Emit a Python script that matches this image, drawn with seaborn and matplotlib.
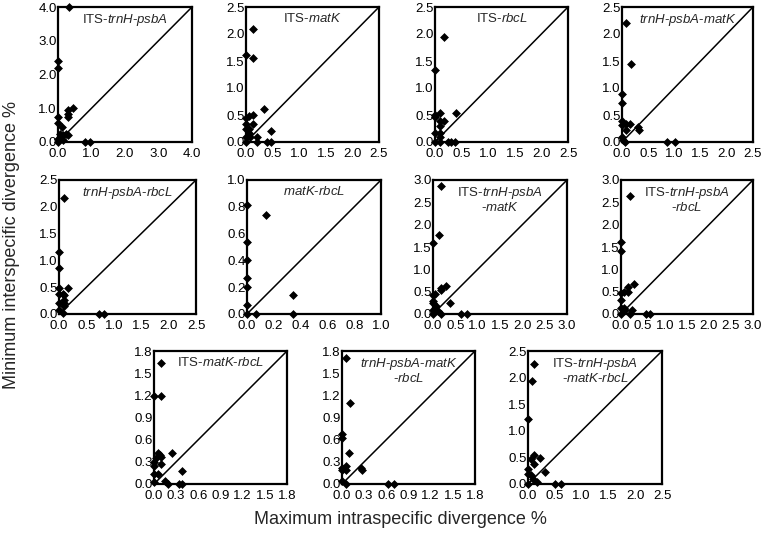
import numpy as np
import pandas as pd
import matplotlib
matplotlib.use("Agg")
import matplotlib.pyplot as plt
import seaborn as sns

sns.set_style("white")
plt.rcParams["font.family"] = ["Liberation Sans", "DejaVu Sans"]
plt.rcParams["mathtext.fontset"] = "custom"
plt.rcParams["mathtext.rm"] = "Liberation Sans"
plt.rcParams["mathtext.it"] = "Liberation Sans:italic"

# data: (max intraspecific, min interspecific) per marker combination
its_trnh_x = [0.33, 0.0, 0.0, 0.0, 0.0, 0.3, 0.3, 0.3, 0.45, 0.13, 0.07, 0.15, 0.25, 0.3, 0.0, 0.0, 0.8, 0.95, 0.15]
its_trnh_y = [4.0, 2.4, 2.18, 0.74, 0.56, 0.96, 0.84, 0.74, 1.02, 0.43, 0.25, 0.2, 0.25, 0.2, 0.1, 0.0, 0.0, 0.0, 0.05]

its_matk_x = [0.125, 0.0, 0.125, 0.34, 0.06, 0.14, 0.14, 0.0, 0.0, 0.0, 0.06, 0.06, 0.0, 0.08, 0.2, 0.47, 0.4, 0.47, 0.2, 0.0]
its_matk_y = [2.09, 1.62, 1.55, 0.62, 0.48, 0.5, 0.34, 0.44, 0.34, 0.25, 0.25, 0.16, 0.09, 0.09, 0.09, 0.2, 0.0, 0.0, 0.0, 0.0]

its_rbcl_x = [0.16, 0.0, 0.0, 0.0, 0.09, 0.09, 0.09, 0.17, 0.39, 0.0, 0.09, 0.09, 0.0, 0.09, 0.24, 0.31, 0.37]
its_rbcl_y = [1.94, 1.34, 0.5, 0.46, 0.53, 0.38, 0.29, 0.38, 0.53, 0.16, 0.16, 0.09, 0.0, 0.0, 0.0, 0.0, 0.0]

trnh_matk_x = [0.08, 0.18, 0.0, 0.0, 0.0, 0.0, 0.08, 0.16, 0.08, 0.31, 0.33, 0.0, 0.02, 0.05, 0.86, 1.02]
trnh_matk_y = [2.2, 1.44, 0.89, 0.73, 0.39, 0.31, 0.33, 0.33, 0.23, 0.27, 0.23, 0.09, 0.03, 0.0, 0.0, 0.0]

trnh_rbcl_x = [0.1, 0.0, 0.0, 0.0, 0.17, 0.0, 0.07, 0.1, 0.1, 0.1, 0.1, 0.0, 0.0, 0.07, 0.73, 0.82]
trnh_rbcl_y = [2.16, 1.16, 0.85, 0.48, 0.48, 0.37, 0.37, 0.35, 0.27, 0.2, 0.14, 0.2, 0.07, 0.01, 0.0, 0.0]

matk_rbcl_x = [0.14, 0.0, 0.0, 0.0, 0.0, 0.0, 0.0, 0.0, 0.07, 0.34, 0.34]
matk_rbcl_y = [0.74, 0.81, 0.54, 0.4, 0.27, 0.2, 0.07, 0.0, 0.0, 0.14, 0.0]

its_trnh_matk_x = [0.17, 0.13, 0.0, 0.28, 0.17, 0.17, 0.05, 0.0, 0.0, 0.0, 0.06, 0.0, 0.11, 0.38, 0.17, 0.62, 0.77, 0.0]
its_trnh_matk_y = [2.86, 1.77, 1.59, 0.62, 0.59, 0.53, 0.44, 0.42, 0.3, 0.25, 0.17, 0.1, 0.06, 0.25, 0.0, 0.0, 0.0, 0.0]

its_trnh_rbcl_x = [0.21, 0.0, 0.0, 0.0, 0.06, 0.17, 0.29, 0.17, 0.0, 0.0, 0.06, 0.1, 0.25, 0.0, 0.21, 0.57, 0.66]
its_trnh_rbcl_y = [2.65, 1.62, 1.41, 0.46, 0.49, 0.61, 0.68, 0.5, 0.32, 0.14, 0.14, 0.1, 0.1, 0.0, 0.0, 0.0, 0.0]

its_matk_rbcl_x = [0.1, 0.0, 0.1, 0.06, 0.08, 0.1, 0.03, 0.0, 0.0, 0.1, 0.24, 0.06, 0.0, 0.38, 0.15, 0.19, 0.34, 0.38, 0.0]
its_matk_rbcl_y = [1.64, 1.19, 1.19, 0.42, 0.39, 0.37, 0.35, 0.3, 0.25, 0.27, 0.42, 0.13, 0.13, 0.18, 0.04, 0.0, 0.0, 0.0, 0.03]

trnh_matk_rbcl_x = [0.06, 0.11, 0.0, 0.0, 0.1, 0.0, 0.0, 0.05, 0.05, 0.26, 0.27, 0.0, 0.05, 0.62, 0.71]
trnh_matk_rbcl_y = [1.7, 1.1, 0.68, 0.62, 0.42, 0.22, 0.19, 0.24, 0.19, 0.22, 0.19, 0.04, 0.0, 0.0, 0.0]

all_five_x = [0.12, 0.08, 0.0, 0.12, 0.06, 0.22, 0.12, 0.0, 0.0, 0.06, 0.09, 0.31, 0.16, 0.51, 0.61, 0.0]
all_five_y = [2.25, 1.93, 1.23, 0.55, 0.47, 0.48, 0.38, 0.28, 0.19, 0.16, 0.09, 0.22, 0.03, 0.0, 0.0, 0.0]

titles = [
    r"ITS-$\it{trnH}$-$\it{psbA}$",
    r"ITS-$\it{matK}$",
    r"ITS-$\it{rbcL}$",
    r"$\it{trnH}$-$\it{psbA}$-$\it{matK}$",
    r"$\it{trnH}$-$\it{psbA}$-$\it{rbcL}$",
    r"$\it{matK}$-$\it{rbcL}$",
    "ITS-$\\it{trnH}$-$\\it{psbA}$\n-$\\it{matK}$",
    "ITS-$\\it{trnH}$-$\\it{psbA}$\n-$\\it{rbcL}$",
    r"ITS-$\it{matK}$-$\it{rbcL}$",
    "$\\it{trnH}$-$\\it{psbA}$-$\\it{matK}$\n-$\\it{rbcL}$",
    "ITS-$\\it{trnH}$-$\\it{psbA}$\n-$\\it{matK}$-$\\it{rbcL}$",
]
axis_max = [4.0, 2.5, 2.5, 2.5, 2.5, 1.0, 3.0, 3.0, 1.8, 1.8, 2.5]
tick_step = [1.0, 0.5, 0.5, 0.5, 0.5, 0.2, 0.5, 0.5, 0.3, 0.3, 0.5]

series = [
    (its_trnh_x, its_trnh_y), (its_matk_x, its_matk_y), (its_rbcl_x, its_rbcl_y),
    (trnh_matk_x, trnh_matk_y), (trnh_rbcl_x, trnh_rbcl_y), (matk_rbcl_x, matk_rbcl_y),
    (its_trnh_matk_x, its_trnh_matk_y), (its_trnh_rbcl_x, its_trnh_rbcl_y),
    (its_matk_rbcl_x, its_matk_rbcl_y), (trnh_matk_rbcl_x, trnh_matk_rbcl_y),
    (all_five_x, all_five_y),
]

# panel boxes in pixels: left, right, top, bottom
W, H = 767, 536
boxes = [
    (58, 192, 7, 142), (246, 379, 7, 142), (435, 568, 7, 142), (622, 753, 7, 142),
    (59, 196, 180, 314), (247, 381, 180, 314), (433, 567, 180, 314), (621, 753, 180, 314),
    (154, 287, 351, 484), (342, 475, 351, 484), (528, 662, 351, 484),
]

fig = plt.figure(figsize=(W / 100, H / 100), dpi=100)

for i, (xs, ys) in enumerate(series):
    l, r, t, b = boxes[i]
    ax = fig.add_axes([l / W, 1 - b / H, (r - l) / W, (b - t) / H])
    m = axis_max[i]
    ax.plot([0, m], [0, m], color="black", lw=1.1, zorder=1)
    df = pd.DataFrame({"intra": xs, "inter": ys})
    sns.scatterplot(data=df, x="intra", y="inter", ax=ax, marker="D", s=16,
                    color="black", edgecolor="black", linewidth=0.5,
                    clip_on=False, zorder=3)
    ax.set_xlim(0, m)
    ax.set_ylim(0, m)
    ticks = np.arange(0, m + tick_step[i] / 2, tick_step[i])
    ax.set_xticks(ticks)
    ax.set_yticks(ticks)
    ax.set_xticklabels([f"{v:.1f}" for v in ticks])
    ax.set_yticklabels([f"{v:.1f}" for v in ticks])
    ax.tick_params(length=0, labelsize=9.5, colors="black")
    ax.tick_params(axis="x", pad=4)
    ax.tick_params(axis="y", pad=1)
    ax.set_xlabel("")
    ax.set_ylabel("")
    for s in ax.spines.values():
        s.set_color("black")
        s.set_linewidth(1.6)
    ax.text(0.5, 0.96, titles[i], transform=ax.transAxes, ha="center", va="top",
            multialignment="center", fontsize=9.5, linespacing=0.95)

fig.text(12 / W, 1 - 245 / H, "Minimum interspecific divergence %", rotation=90,
         ha="center", va="center", fontsize=13)
fig.text(400 / W, 1 - 520 / H, "Maximum intraspecific divergence %",
         ha="center", va="center", fontsize=13)

fig.savefig("out.png", dpi=100)
